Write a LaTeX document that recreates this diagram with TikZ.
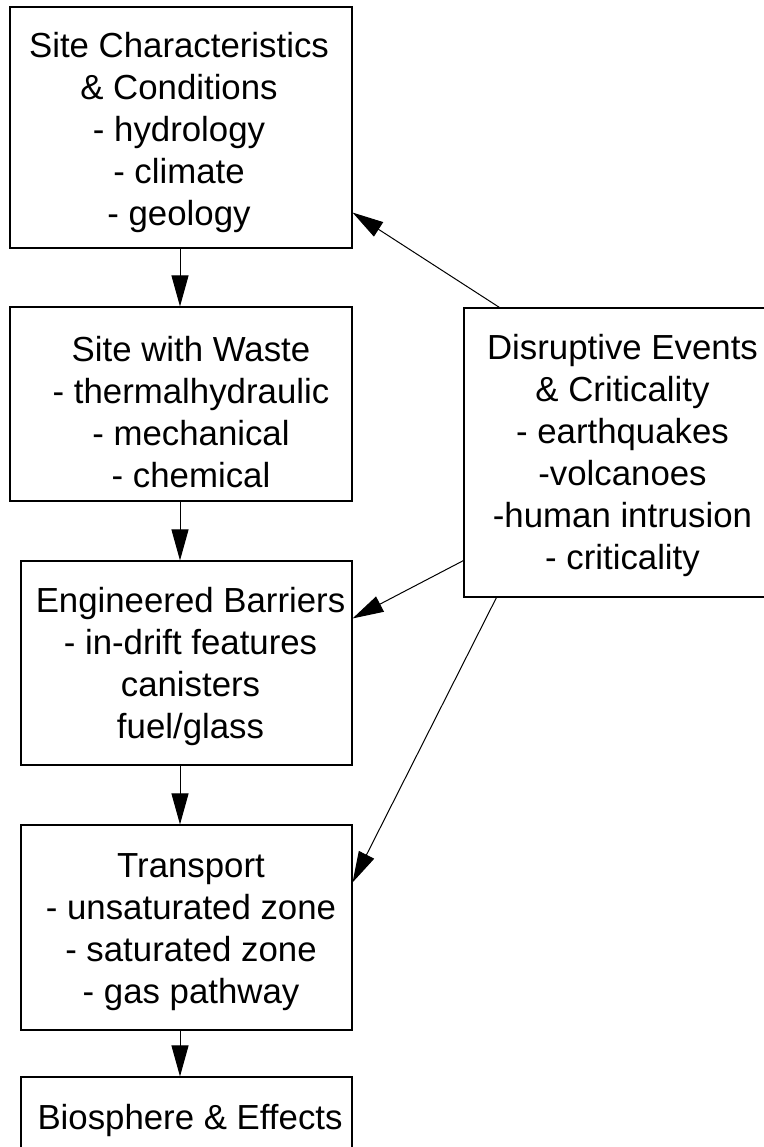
\documentclass[tikz,border=0pt]{standalone}
\usepackage{fontspec}
\setmainfont{Liberation Sans}
\usetikzlibrary{arrows.meta}
\begin{document}
\begin{tikzpicture}[x=1pt,y=-1pt,
  box/.style={draw=black,line width=1.1pt,inner sep=0pt},
  txt/.style={align=center,inner sep=0pt,font=\fontsize{34.8}{42}\selectfont},
  arr/.style={line width=1pt,-{Triangle[length=31pt,width=17pt]}}]
\useasboundingbox (0,0) rectangle (763,1147);
\node[box,minimum width=342pt,minimum height=241pt] (b1) at (181,127.5) {};
\node[box,minimum width=342pt,minimum height=194pt] (b2) at (181,404) {};
\node[box,minimum width=331pt,minimum height=204pt] (b3) at (186.5,663) {};
\node[box,minimum width=331pt,minimum height=205pt] (b4) at (186.5,927.5) {};
\node[box,minimum width=331pt,minimum height=80pt] (b5) at (186.5,1117) {};
\node[box,minimum width=317pt,minimum height=289pt] (dis) at (622.5,452.5) {};
\node[txt] (t1) at ([xshift=-2pt,yshift=-5pt]b1.center)
  {Site Characteristics\\\& Conditions\\- hydrology\\- climate\\- geology};
\node[txt] (t2) at ([xshift=10pt,yshift=-8pt]b2.center)
  {Site with Waste\\- thermalhydraulic\\- mechanical\\- chemical};
\node[txt] (t3) at ([xshift=4pt,yshift=-3pt]b3.center)
  {Engineered Barriers\\- in-drift features\\canisters\\fuel/glass};
\node[txt] (t4) at ([xshift=4.5pt,yshift=-5pt]b4.center)
  {Transport\\- unsaturated zone\\- saturated zone\\- gas pathway};
\node[txt] (t5) at ([xshift=3.5pt,yshift=-3pt]b5.center) {Biosphere \& Effects};
\node[txt] (td) at ([yshift=-3pt]dis.center)
  {Disruptive Events\\\& Criticality\\- earthquakes\\-volcanoes\\-human intrusion\\- criticality};
\draw[arr] ([xshift=-1pt]b1.south) -- ([xshift=-1pt]b1.south |- b2.north);
\draw[arr] ([xshift=-1pt]b2.south) -- ([xshift=-1pt]b2.south |- b3.north);
\draw[arr] ([xshift=-1pt]b2.south |- b3.south) -- ([xshift=-1pt]b2.south |- b4.north);
\draw[arr] ([xshift=-1pt]b2.south |- b4.south) -- ([xshift=-1pt]b2.south |- b5.north);
\draw[arr] ([xshift=36pt]dis.north west) -- ([yshift=36pt]b1.south east);
\draw[arr] ([yshift=37pt]dis.south west) -- ([yshift=-58pt]b3.north east);
\draw[arr] ([xshift=33pt]dis.south west) -- ([yshift=-58pt]b4.north east);
\end{tikzpicture}
\end{document}
